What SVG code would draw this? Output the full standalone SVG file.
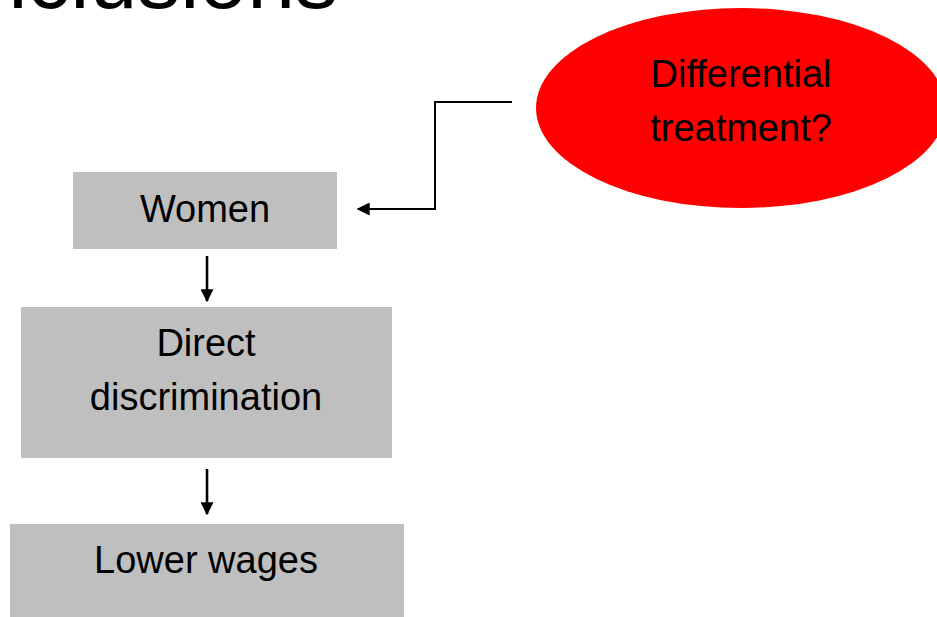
<svg xmlns="http://www.w3.org/2000/svg" width="937" height="617" viewBox="0 0 937 617">
  <style>
    .box { fill: #bfbfbf; }
    .lbl { font-family: "Liberation Sans", Arial, sans-serif; font-size: 38px; fill: #000; text-anchor: middle; }
    .title { font-family: "Liberation Sans", Arial, sans-serif; font-size: 86px; fill: #000; text-anchor: end; }
    .conn { fill: none; stroke: #000; stroke-width: 2; }
    .conn.thick { stroke-width: 2.6; }
  </style>
  <defs>
    <marker id="arrow" viewBox="0 0 10 10" refX="9" refY="5" markerWidth="13" markerHeight="13" markerUnits="userSpaceOnUse" orient="auto">
      <path d="M0,0 L10,5 L0,10 Z" fill="#000"/>
    </marker>
  </defs>
  <rect width="937" height="617" fill="#fff"/>

  <!-- slide title, mostly above the visible area -->
  <text class="title" x="338" y="8">Conclusions</text>

  <g id="differential-treatment">
    <ellipse cx="741" cy="108" rx="205" ry="100" fill="#ff0000"/>
    <text class="lbl" x="741" y="87">Differential</text>
    <text class="lbl" x="741" y="141">treatment?</text>
  </g>

  <g id="women">
    <rect class="box" x="73" y="172" width="264" height="77"/>
    <text class="lbl" x="205" y="222">Women</text>
  </g>

  <g id="direct-discrimination">
    <rect class="box" x="21" y="307" width="371" height="151"/>
    <text class="lbl" x="206" y="356">Direct</text>
    <text class="lbl" x="206" y="410">discrimination</text>
  </g>

  <g id="lower-wages">
    <rect class="box" x="10" y="524" width="394" height="93"/>
    <text class="lbl" x="206" y="573">Lower wages</text>
  </g>

  <g id="connectors">
    <path class="conn" d="M512,102 H435 V209 H358" marker-end="url(#arrow)"/>
    <path class="conn thick" d="M207,256 V301" marker-end="url(#arrow)"/>
    <path class="conn thick" d="M207,469 V514" marker-end="url(#arrow)"/>
  </g>
</svg>
